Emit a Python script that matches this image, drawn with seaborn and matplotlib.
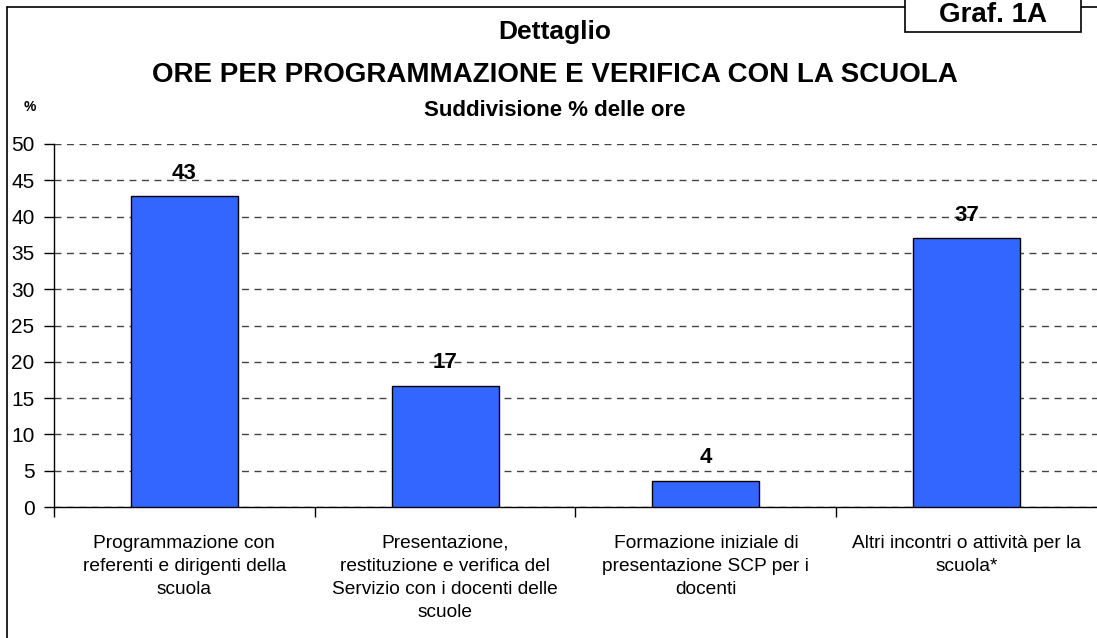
import matplotlib
matplotlib.use("Agg")
import matplotlib.pyplot as plt
import seaborn as sns
import pandas as pd
from matplotlib.patches import Rectangle
from matplotlib.lines import Line2D
from matplotlib.ticker import MultipleLocator, FixedLocator

categories = [
    "Programmazione con\nreferenti e dirigenti della\nscuola",
    "Presentazione,\nrestituzione e verifica del\nServizio con i docenti delle\nscuole",
    "Formazione iniziale di\npresentazione SCP per i\ndocenti",
    "Altri incontri o attività per la\nscuola*",
]
values = [42.8, 16.7, 3.6, 37.0]
value_labels = ["43", "17", "4", "37"]

df = pd.DataFrame({"cat": categories, "pct": values})

sns.set_style("white")
plt.rcParams["font.family"] = ["Liberation Sans", "DejaVu Sans"]
plt.rcParams.update({"text.color": "black", "xtick.color": "black",
                     "ytick.color": "black", "axes.edgecolor": "black",
                     "axes.labelcolor": "black"})

fig = plt.figure(figsize=(10.97, 6.38), dpi=100)
ax = fig.add_axes([0.0492, 0.2053, 0.9508, 0.569])

sns.barplot(data=df, x="cat", y="pct", color="#3366FF", width=0.41,
            edgecolor="black", linewidth=1.0, saturation=1, ax=ax, zorder=3)

ax.set_ylim(0, 50)
ax.set_xlim(-0.5, 3.5)
ax.yaxis.set_major_locator(MultipleLocator(5))
ax.grid(axis="y", linestyle=(0, (5, 4)), color="#444444", linewidth=1.0, zorder=0)
ax.set_axisbelow(True)

for i, (v, lab) in enumerate(zip(values, value_labels)):
    ax.annotate(lab, (i, v), xytext=(0, 9), textcoords="offset points",
                ha="center", va="bottom", fontsize=16, fontweight="bold")

ax.set_xlabel("")
ax.set_ylabel("")
for s in ["top", "right"]:
    ax.spines[s].set_visible(False)
ax.spines["left"].set_linewidth(1.0)
ax.spines["bottom"].set_linewidth(1.0)

ax.tick_params(axis="y", which="major", direction="out", length=7, width=1,
               labelsize=15, pad=7, left=True)
ax.tick_params(axis="x", which="major", length=0, labelsize=13.8, pad=20)
ax.xaxis.set_minor_locator(FixedLocator([-0.5, 0.5, 1.5, 2.5]))
ax.tick_params(axis="x", which="minor", direction="out", length=7, width=1, bottom=True)
for t in ax.get_xticklabels():
    t.set_linespacing(1.46)

# outer frame
fig.add_artist(Line2D([7 / 1097, 7 / 1097], [0, 631 / 638], color="black", lw=1.2))
fig.add_artist(Line2D([7 / 1097, 1.0], [631 / 638, 631 / 638], color="black", lw=1.2))
fig.add_artist(Rectangle((905 / 1097, 606 / 638), 176 / 1097, 40 / 638,
                         facecolor="white", edgecolor="black", lw=1.2, zorder=5))
fig.text(993 / 1097, 623 / 638, "Graf. 1A", ha="center", va="center",
         fontsize=20, fontweight="bold", zorder=6)

cx = 555 / 1097
fig.text(cx, 606 / 638, "Dettaglio", ha="center", va="center",
         fontsize=19, fontweight="bold")
fig.text(cx, 563 / 638, "ORE PER PROGRAMMAZIONE E VERIFICA CON LA SCUOLA",
         ha="center", va="center", fontsize=20, fontweight="bold")
fig.text(cx, 527 / 638, "Suddivisione % delle ore", ha="center", va="center",
         fontsize=16, fontweight="bold")
fig.text(30 / 1097, 531 / 638, "%", ha="center", va="center",
         fontsize=10, fontweight="bold")

fig.savefig("out.png", dpi=100)
